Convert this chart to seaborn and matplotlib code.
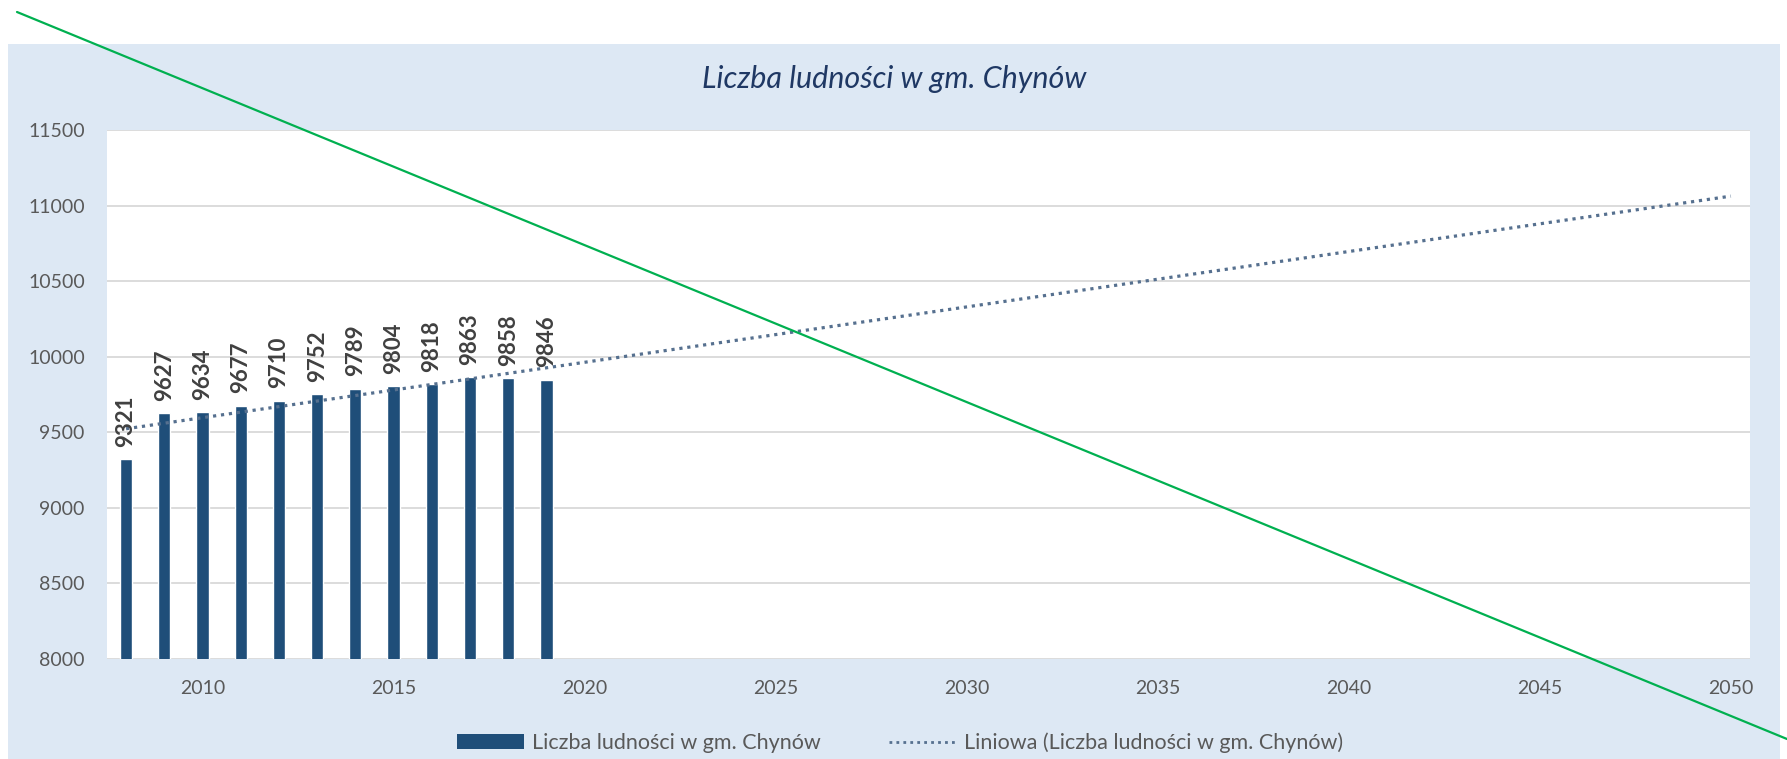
import numpy as np
import pandas as pd
import matplotlib
matplotlib.use("Agg")
import matplotlib.pyplot as plt
from matplotlib.patches import Rectangle
from matplotlib.lines import Line2D
import seaborn as sns

# ---- data ----
years = [2008, 2009, 2010, 2011, 2012, 2013, 2014, 2015, 2016, 2017, 2018, 2019]
population = [9321, 9627, 9634, 9677, 9710, 9752, 9789, 9804, 9818, 9863, 9858, 9846]
title = "Liczba ludności w gm. Chynów"
series_label = "Liczba ludności w gm. Chynów"
trend_label = "Liniowa (Liczba ludności w gm. Chynów)"
trend_end_year = 2050
y_ticks = [8000, 8500, 9000, 9500, 10000, 10500, 11000, 11500]
x_ticks = [2010, 2015, 2020, 2025, 2030, 2035, 2040, 2045, 2050]

# linear trendline (as in Excel "Liniowa"), computed from the data
coef = np.polyfit(years, population, 1)
trend_years = np.array([years[0], trend_end_year])
trend_vals = np.polyval(coef, trend_years)

df = pd.DataFrame({"year": years, "pop": population})
tdf = pd.DataFrame({"year": trend_years, "val": trend_vals})

sns.set_theme(style="white")
plt.rcParams["font.family"] = ["Lato", "DejaVu Sans"]

W, H = 1787, 759
fig = plt.figure(figsize=(W / 100, H / 100), dpi=100)
fig.patch.set_facecolor("white")

# light blue chart panel
panel = Rectangle((8 / W, 0), 1772 / W, (H - 44) / H, transform=fig.transFigure,
                  facecolor="#DDE8F4", edgecolor="none", zorder=-5)
fig.add_artist(panel)

ax = fig.add_axes([107 / W, 1 - 659 / H, (1750 - 107) / W, (659 - 130) / H])
ax.set_zorder(2)
ax.set_facecolor("white")

bar_color = "#1F4E79"
trend_color = "#56708F"
sns.barplot(data=df, x="year", y="pop", native_scale=True, width=0.32,
            color=bar_color, errorbar=None, ax=ax, zorder=3, saturation=1)
sns.lineplot(data=tdf, x="year", y="val", ax=ax, color=trend_color, lw=2.3,
             linestyle=(0, (1, 1.5)), zorder=4)

for yr, v in zip(years, population):
    ax.annotate(f"{v}", (yr, v), xytext=(0, 9), textcoords="offset points",
                rotation=90, ha="center", va="bottom", fontsize=16,
                fontweight="bold", color="#404040", zorder=5)

ax.set_xlim(2007.5, 2050.5)
ax.set_ylim(8000, 11500)
ax.set_yticks(y_ticks)
ax.set_xticks(x_ticks)
ax.set_yticklabels([str(t) for t in y_ticks])
ax.set_xticklabels([str(t) for t in x_ticks])
ax.tick_params(axis="both", length=0, labelsize=14, labelcolor="#595959")
ax.tick_params(axis="y", pad=16)
ax.tick_params(axis="x", pad=15)
ax.grid(axis="y", color="#D9D9D9", lw=1.3, zorder=0)
ax.grid(axis="x", visible=False)
ax.set_axisbelow(True)
for s in ax.spines.values():
    s.set_visible(False)
ax.set_xlabel("")
ax.set_ylabel("")
if ax.get_legend():
    ax.get_legend().remove()

fig.text(894 / W, 1 - 79 / H, title, ha="center", va="center", fontsize=22,
         style="italic", color="#1F3864")

handles = [Rectangle((0, 0), 1, 1, facecolor=bar_color, edgecolor="none"),
           Line2D([], [], color=trend_color, lw=2.0, linestyle=(0, (1, 1.5)))]
fig.legend(handles, [series_label, trend_label], loc="center",
           bbox_to_anchor=(900 / W, 1 - 743 / H), ncol=2, frameon=False,
           fontsize=15.5, labelcolor="#595959", handlelength=3.1,
           handleheight=0.7, handletextpad=0.35, columnspacing=3.2)

# green diagonal line across the image
fig.add_artist(Line2D([17 / W, 1.0], [1 - 12 / H, 1 - 739 / H],
                      transform=fig.transFigure, color="#00B050", lw=1.6, zorder=10))

fig.savefig("out.png", dpi=100)
